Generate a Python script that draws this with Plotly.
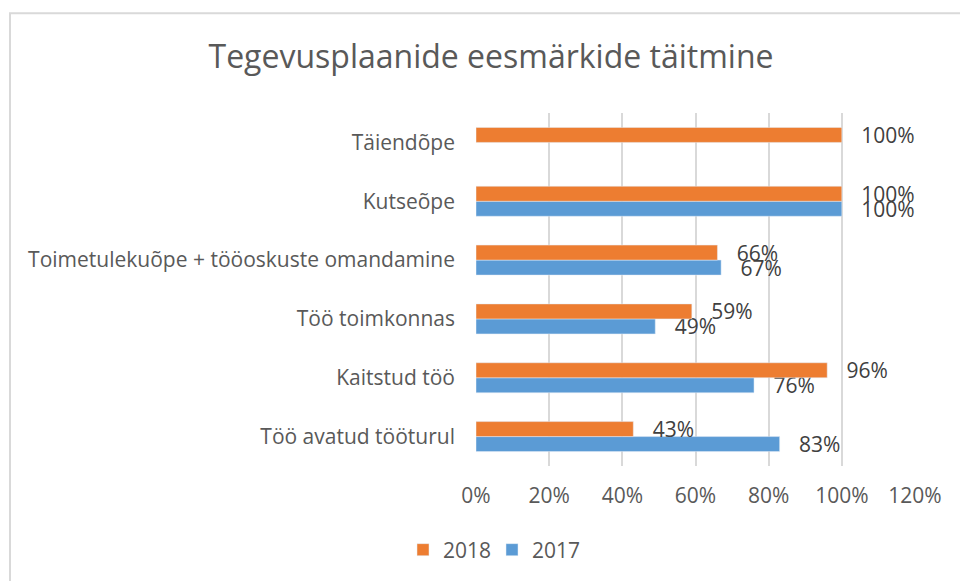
import plotly.graph_objects as go

categories = ["Töö avatud tööturul", "Kaitstud töö", "Töö toimkonnas",
              "Toimetulekuõpe + tööoskuste omandamine", "Kutseõpe", "Täiendõpe"]
values_2017 = [0.83, 0.76, 0.49, 0.67, 1.00, None]
values_2018 = [0.43, 0.96, 0.59, 0.66, 1.00, 1.00]
x_ticks = [0, 0.2, 0.4, 0.6, 0.8, 1.0, 1.2]
x_tick_labels = ["0%", "20%", "40%", "60%", "80%", "100%", "120%"]

FONT = "Open Sans"
LABEL_COLOR = "#404040"
TICK_COLOR = "#595959"
GRID = "#d9d9d9"
FS = 21
pad = "\u00a0\u00a0\u00a0"

fig = go.Figure()
fig.add_trace(go.Bar(
    name="2017", y=categories, x=values_2017, orientation="h",
    marker=dict(color="#5B9BD5"),
    texttemplate=pad + "%{x:.0%}", textposition="outside", cliponaxis=False,
    constraintext="none",
    textfont=dict(family=FONT, size=FS, color=LABEL_COLOR),
))
fig.add_trace(go.Bar(
    name="2018", y=categories, x=values_2018, orientation="h",
    marker=dict(color="#ED7D31"),
    texttemplate=pad + "%{x:.0%}", textposition="outside", cliponaxis=False,
    constraintext="none",
    textfont=dict(family=FONT, size=FS, color=LABEL_COLOR),
))

L, R, T, B = 476, 45, 113, 114
W, H = 960, 581
pw = W - L - R
ph = H - T - B

fig.update_layout(
    width=W, height=H,
    margin=dict(l=L, r=R, t=T, b=B, pad=0),
    paper_bgcolor="white", plot_bgcolor="white",
    barmode="group", bargap=0.49, bargroupgap=0,
    font=dict(family=FONT, color=TICK_COLOR),
    title=dict(text="Tegevusplaanide eesmärkide täitmine",
               font=dict(family=FONT, size=32, color=TICK_COLOR),
               x=491 / W, xanchor="center", y=1 - 57 / H, yanchor="middle"),
    legend=dict(orientation="h", x=(492 - L) / pw, xanchor="center",
                y=(H - B - 550) / ph, yanchor="middle",
                traceorder="reversed", entrywidth=44, entrywidthmode="pixels",
                font=dict(family=FONT, size=FS, color=TICK_COLOR)),
    xaxis=dict(range=[0, 1.2], tickvals=x_ticks, ticktext=x_tick_labels,
               showgrid=True, gridcolor=GRID, gridwidth=1.5,
               zeroline=False, showline=False, ticks="",
               ticklabelstandoff=15,
               tickfont=dict(family=FONT, size=FS, color=TICK_COLOR)),
    yaxis=dict(showgrid=False, zeroline=False, ticks="",
               ticklabelstandoff=20,
               tickfont=dict(family=FONT, size=FS, color=TICK_COLOR)),
)

# outer chart border
fig.add_shape(type="rect", xref="paper", yref="paper",
              x0=(10 - L) / pw, x1=(W + 20 - L) / pw,
              y0=(H - B - (H + 20)) / ph, y1=(H - B - 13) / ph,
              line=dict(color=GRID, width=2), fillcolor="rgba(0,0,0,0)",
              layer="below")

fig.write_html("out.html")
